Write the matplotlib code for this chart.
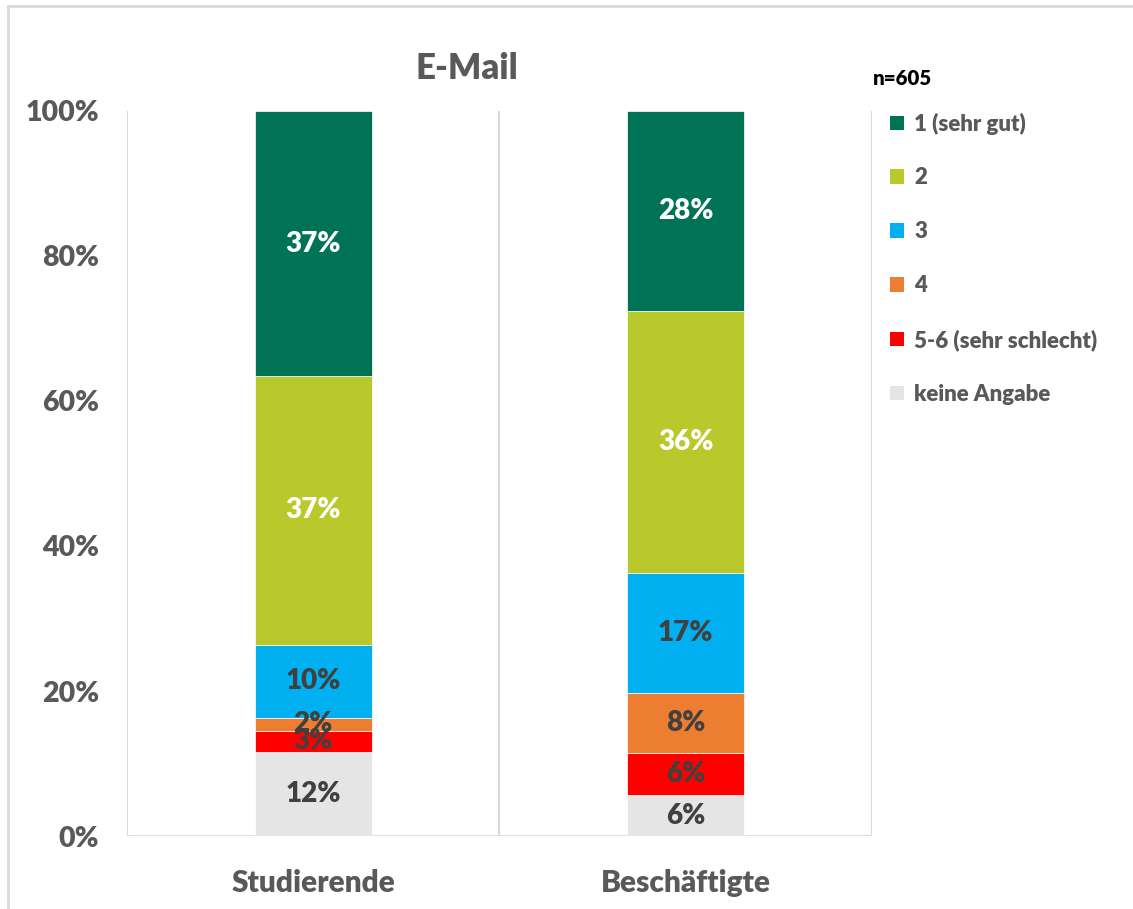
import matplotlib
matplotlib.use("Agg")
import matplotlib.pyplot as plt
from matplotlib.lines import Line2D
from matplotlib.patches import Patch

plt.rcParams['font.family'] = ['Lato', 'DejaVu Sans']
plt.rcParams['font.weight'] = 'heavy'

groups = ['Studierende', 'Beschäftigte']
# stacked from the bottom up
ratings = ['keine Angabe', '5-6 (sehr schlecht)', '4', '3', '2', '1 (sehr gut)']
keine_angabe = [11.6, 5.6]
note_5_6 = [2.9, 5.8]
note_4 = [1.8, 8.3]
note_3 = [10.1, 16.6]
note_2 = [37.0, 36.1]
note_1 = [36.6, 27.6]
series = [keine_angabe, note_5_6, note_4, note_3, note_2, note_1]
colors = ['#e5e5e5', '#ff0000', '#ed7d31', '#00b0f0', '#b9c92b', '#007356']
label_colors = ['#404040', '#404040', '#404040', '#404040', 'white', 'white']
n_text = 'n=605'
W = 'heavy'

fig = plt.figure(figsize=(11.33, 9.09), dpi=100)
ax = fig.add_axes([0.1121, 0.0803, 0.6575, 0.7976])

x = list(range(len(groups)))
bottoms = [0.0] * len(groups)
for vals, col, lcol in zip(series, colors, label_colors):
    bars = ax.bar(x, vals, width=0.315, bottom=bottoms, color=col,
                  edgecolor='white', linewidth=0.5, zorder=3)
    for b, v in zip(bars, vals):
        ax.text(b.get_x() + b.get_width() / 2, b.get_y() + v / 2,
                f'{v:.0f}%', ha='center', va='center', fontsize=20,
                fontweight=W, color=lcol, zorder=4)
    bottoms = [b + v for b, v in zip(bottoms, vals)]

ax.set_xlim(-0.5, 1.5)
ax.set_ylim(0, 100)
ax.set_yticks(range(0, 101, 20))
ax.set_yticklabels([f'{t}%' for t in range(0, 101, 20)], fontweight=W)
ax.set_xticks(x)
ax.set_xticklabels(groups, fontweight=W)
ax.tick_params(axis='both', length=0, labelsize=20.5, colors='#595959')
ax.tick_params(axis='y', pad=20)
ax.tick_params(axis='x', pad=24)
ax.tick_params(axis='x', labelsize=21.5)
for s in ax.spines.values():
    s.set_visible(False)

# category separators and baseline
for xv in [-0.5, 0.5, 1.5]:
    ax.axvline(xv, color='#d9d9d9', linewidth=1.5, zorder=1)
ax.axhline(0, color='#d9d9d9', linewidth=2, zorder=2)

fig.text(0.412, 0.925, 'E-Mail', ha='center', va='center', fontsize=25,
         fontweight=W, color='#595959')
fig.text(0.770, 0.914, n_text, ha='left', va='center', fontsize=14.8,
         fontweight=W, color='black')

handles = [Patch(facecolor=c, edgecolor='none') for c in colors[::-1]]
leg = fig.legend(handles, ratings[::-1], loc='upper left',
                 bbox_to_anchor=(0.778, 0.886), frameon=False,
                 fontsize=16, labelcolor='#595959', handlelength=0.63,
                 handleheight=0.63, handletextpad=0.45, labelspacing=1.48,
                 borderaxespad=0)
for t in leg.get_texts():
    t.set_fontweight(W)

# outer chart frame (top and left edges)
fig.add_artist(Line2D([0.007, 1.0], [0.9934, 0.9934], color='#d9d9d9',
                      linewidth=2, transform=fig.transFigure))
fig.add_artist(Line2D([0.007, 0.007], [0.0, 0.9934], color='#d9d9d9',
                      linewidth=2, transform=fig.transFigure))

fig.savefig('out.png', dpi=100, facecolor='white')
